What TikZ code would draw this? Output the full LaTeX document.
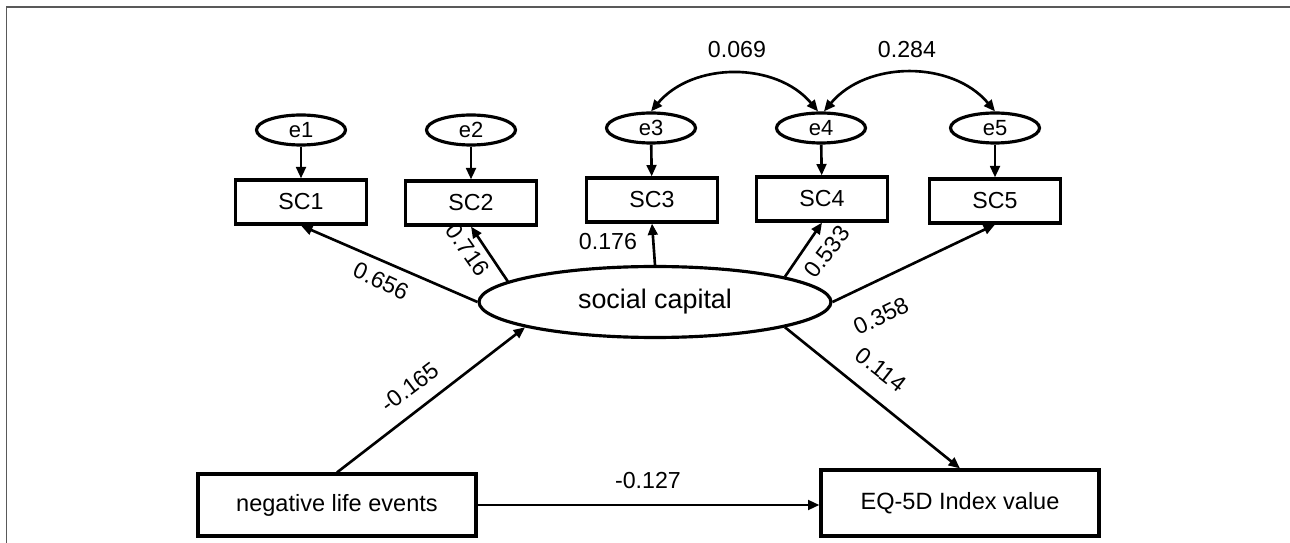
\documentclass[tikz,border=0pt]{standalone}
\usepackage{fontspec}
\setmainfont{Liberation Sans}
\usetikzlibrary{arrows.meta,shapes.geometric}

\begin{document}
\begin{tikzpicture}[x=0.02cm, y=-0.02cm,
  errvar/.style={ellipse, draw, line width=1.8pt, minimum width=1.78cm, minimum height=0.6cm, inner sep=0pt, font=\fontsize{12.5}{14}\selectfont},
  indic/.style={rectangle, draw, line width=1.8pt, minimum width=2.62cm, minimum height=0.88cm, inner sep=0pt, font=\fontsize{13.2}{15}\selectfont},
  latent/.style={ellipse, draw, line width=1.8pt, minimum width=7.04cm, minimum height=1.42cm, inner sep=0pt, font=\fontsize{15.3}{18}\selectfont},
  bigbox/.style={rectangle, draw, line width=1.8pt, minimum width=5.56cm, inner sep=0pt, font=\fontsize{13.4}{16}\selectfont},
  effect/.style={line width=1.5pt, -{Triangle[length=6.5pt,width=5.5pt]}},
  covar/.style={line width=1.5pt, {Triangle[length=6.5pt,width=5.5pt]}-{Triangle[length=6.5pt,width=5.5pt]}},
  coef/.style={font=\fontsize{13.2}{15}\selectfont, inner sep=1pt}]
  \useasboundingbox (0,0) rectangle (1290,543);
  \draw[gray!70!black, line width=0.9pt] (6.5,543) -- (6.5,7) -- (1290,7);

  % error terms
  \node[errvar] (e1) at (301,130) {e1};
  \node[errvar] (e2) at (471,130) {e2};
  \node[errvar] (e3) at (651,128) {e3};
  \node[errvar] (e4) at (821,128) {e4};
  \node[errvar] (e5) at (995,128) {e5};

  % indicators
  \node[indic] (SC1) at (301,202) {SC1};
  \node[indic] (SC2) at (471,203) {SC2};
  \node[indic] (SC3) at (652,200) {SC3};
  \node[indic] (SC4) at (822,199) {SC4};
  \node[indic] (SC5) at (995,201) {SC5};

  \node[latent] (social) at (655,302) {social capital};
  \node[bigbox, minimum height=1.24cm] (neg) at (337,505) {negative life events};
  \node[bigbox, minimum height=1.32cm] (eq) at (960,503) {EQ-5D Index value};

  \draw[effect] (e1) -- (SC1);
  \draw[effect] (e2) -- (SC2);
  \draw[effect] (e3) -- (SC3);
  \draw[effect] (e4) -- (SC4);
  \draw[effect] (e5) -- (SC5);

  \draw[covar] (e3.north) to[bend left=50] (e4.100);
  \draw[covar] (e4.80) to[bend left=50] (e5.north);
  \node[coef] (c34) at (737,50) {0.069};
  \node[coef] (c45) at (907,50) {0.284};

  \draw[effect] (social.west) -- (SC1.south);
  \draw[effect] (social.172) -- (SC2.south);
  \draw[effect] (social.north) -- (SC3.south);
  \draw[effect] (social.11) -- (SC4.south);
  \draw[effect] (social.east) -- (SC5.south);
  \draw[effect] (neg.north) -- (social.191);
  \draw[effect] (social.-11) -- (eq.north);
  \draw[effect] (neg.east) -- (eq.west |- neg.east);

  \node[coef, rotate=-25] (l1) at (381,281) {0.656};
  \node[coef, rotate=-55] (l2) at (468,250) {0.716};
  \node[coef] (l3) at (608,242) {0.176};
  \node[coef, rotate=53] (l4) at (827,252) {0.533};
  \node[coef, rotate=26] (l5) at (881,316) {0.358};
  \node[coef, rotate=37] (l6) at (410,387) {-0.165};
  \node[coef, rotate=-38] (l7) at (881,370) {0.114};
  \node[coef] (l8) at (648,481) {-0.127};
\end{tikzpicture}
\end{document}
